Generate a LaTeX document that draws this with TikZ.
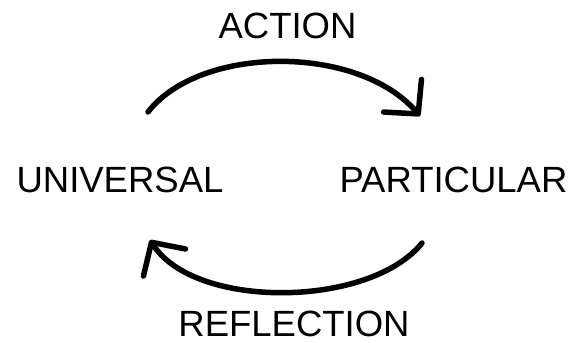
\documentclass[tikz,border=0pt]{standalone}
\usepackage{fontspec}
\setmainfont{Liberation Sans}
\usetikzlibrary{arrows.meta}

\begin{document}
\begin{tikzpicture}[x=1pt,y=-1pt,
    word/.style={font=\fontsize{36.5}{40}\selectfont,inner sep=0pt},
    flow/.style={line width=5.5pt,line cap=round,
      -{Straight Barb[length=24pt,width=50pt,line width=5.5pt,round]}}]

  \useasboundingbox (0,0) rectangle (571,343);

  % labels
  \node[word] (action) at (287.5,25.5) {ACTION};
  \node[word] (univ) at (120,180) {UNIVERSAL};
  \node[word] (part) at (453.5,180) {PARTICULAR};
  \node[word] (refl) at (294,323.5) {REFLECTION};

  % ends of the two arcs
  \coordinate (actStart) at (148,112);
  \coordinate (actEnd) at (420,116);
  \coordinate (refStart) at (422,243);
  \coordinate (refEnd) at (150,240);

  % action: universal -> particular
  \draw[flow] (actStart) .. controls (200,45) and (358,44) .. (actEnd);

  % reflection: particular -> universal
  \draw[flow] (refStart) .. controls (370,308) and (195,310) .. (refEnd);

\end{tikzpicture}
\end{document}
